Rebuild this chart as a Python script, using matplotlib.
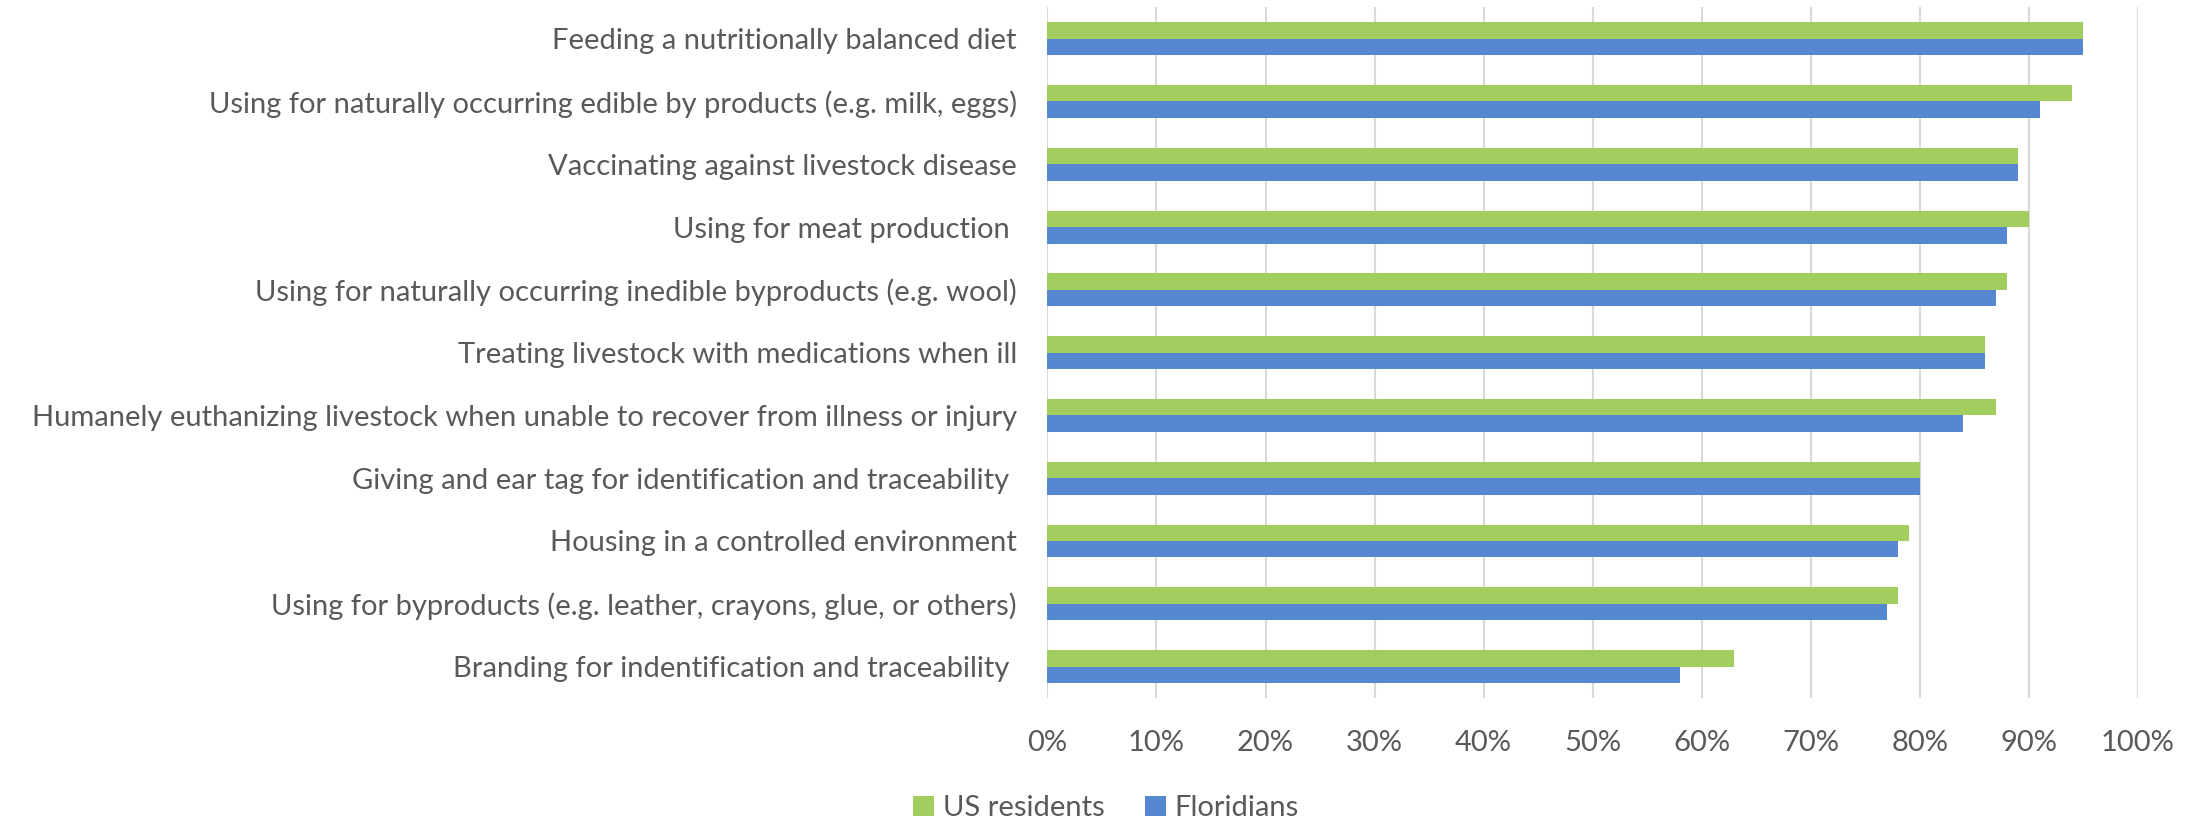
import numpy as np
from matplotlib import pyplot as plt

# categories from top to bottom as shown in the chart
categories = [
    'Feeding a nutritionally balanced diet',
    'Using for naturally occurring edible by products (e.g. milk, eggs)',
    'Vaccinating against livestock disease',
    'Using for meat production ',
    'Using for naturally occurring inedible byproducts (e.g. wool)',
    'Treating livestock with medications when ill',
    'Humanely euthanizing livestock when unable to recover from illness or injury',
    'Giving and ear tag for identification and traceability ',
    'Housing in a controlled environment',
    'Using for byproducts (e.g. leather, crayons, glue, or others)',
    'Branding for indentification and traceability ',
]
us_residents = [95, 94, 89, 90, 88, 86, 87, 80, 79, 78, 63]
floridians = [95, 91, 89, 88, 87, 86, 84, 80, 78, 77, 58]
xticks = [0, 10, 20, 30, 40, 50, 60, 70, 80, 90, 100]

green = '#A2CE5F'
blue = '#5588D0'
txt = '#595959'

plt.rcParams['font.family'] = ['Lato', 'DejaVu Sans']

fig = plt.figure(figsize=(22.01, 8.22), dpi=100)
ax = fig.add_axes([0.4759, 0.1509, 0.4954, 0.8402])

y = np.arange(len(categories))
h = 0.262
ax.barh(y - h/2, us_residents, height=h, color=green, label='US residents', zorder=3)
ax.barh(y + h/2, floridians, height=h, color=blue, label='Floridians', zorder=3)

ax.set_xlim(0, 100)
ax.set_ylim(len(categories) - 0.5, -0.5)
ax.set_xticks(xticks)
ax.set_xticklabels([str(v) + '%' for v in xticks])
ax.set_yticks(y)
ax.set_yticklabels(categories)
ax.tick_params(axis='both', length=0, labelsize=21, colors=txt)
ax.tick_params(axis='x', pad=23)
ax.tick_params(axis='y', pad=22)
ax.grid(axis='x', color='#D9D9D9', linewidth=1.5, zorder=0)
for s in ax.spines.values():
    s.set_visible(False)

fig.legend(loc='center', bbox_to_anchor=(0.5025, 0.017), ncol=2, frameon=False,
           fontsize=21, labelcolor=txt, handlelength=0.7, handleheight=0.7,
           handletextpad=0.3, columnspacing=1.4)

plt.savefig('out.png', dpi=100)
